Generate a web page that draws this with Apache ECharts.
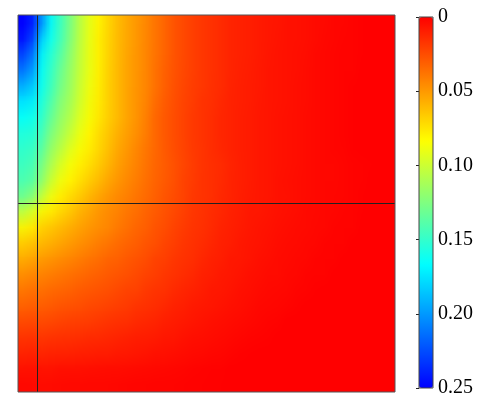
<!DOCTYPE html>
<html>
<head>
<meta charset="utf-8">
<script src="https://cdn.jsdelivr.net/npm/echarts@6/dist/echarts.min.js"></script>
<style>
  html, body { margin: 0; padding: 0; background: #fff; }
  #wrap { position: relative; width: 479px; height: 407px; }
  /* the field is drawn one pixel per cell, then scaled up smoothly to the plot size */
  #field { position: absolute; left: 18px; top: 15px; width: 40px; height: 24px;
           transform: scale(9.425, 15.7083); transform-origin: 0 0; }
  #chart { position: absolute; left: 0; top: 0; width: 479px; height: 407px; }
</style>
</head>
<body>
<div id="wrap">
  <div id="field"></div>
  <div id="chart"></div>
</div>
<script>
// field: 24 rows (top to bottom) x 40 columns (left to right)
const field = [
  [.250,.248,.215,.170,.150,.130,.110,.094,.082,.072,.064,.057,.051,.046,.040,.034,.029,.025,.022,.019,.017,.015,.013,.0115,.0105,.0095,.0085,.0077,.0068,.006,.0052,.0045,.0038,.0031,.0025,.0019,.0013,.0008,.0004,.0001],
  [.248,.244,.190,.166,.148,.129,.109,.093,.081,.071,.063,.056,.051,.046,.040,.034,.029,.025,.022,.019,.017,.015,.013,.0115,.0105,.0095,.0085,.0077,.0068,.006,.0052,.0045,.0038,.0031,.0025,.0019,.0013,.0008,.0004,.0001],
  [.232,.228,.172,.158,.142,.125,.107,.092,.080,.071,.063,.056,.050,.045,.040,.034,.029,.025,.022,.019,.017,.015,.013,.0114,.0104,.0094,.0084,.0076,.0067,.0059,.0051,.0044,.0037,.0030,.0024,.0018,.0012,.0008,.0004,.0001],
  [.218,.214,.167,.152,.135,.121,.106,.093,.081,.071,.062,.055,.050,.045,.039,.033,.028,.025,.022,.019,.017,.015,.013,.0113,.0103,.0093,.0083,.0075,.0066,.0058,.0050,.0043,.0036,.0030,.0024,.0018,.0012,.0007,.0003,.0001],
  [.198,.195,.165,.150,.132,.119,.104,.091,.080,.070,.062,.055,.050,.045,.039,.033,.028,.024,.021,.019,.017,.015,.013,.0112,.0102,.0092,.0082,.0074,.0065,.0057,.0049,.0042,.0036,.0029,.0023,.0017,.0011,.0007,.0003,.0001],
  [.180,.178,.160,.145,.126,.116,.102,.089,.079,.070,.062,.055,.049,.045,.038,.032,.027,.024,.021,.0185,.0165,.0145,.0125,.011,.010,.009,.0081,.0073,.0064,.0056,.0048,.0041,.0035,.0028,.0022,.0016,.0011,.0006,.0003,0],
  [.167,.166,.155,.139,.122,.112,.099,.087,.078,.070,.063,.056,.050,.044,.036,.030,.026,.023,.0195,.0175,.0156,.0135,.0118,.0108,.0098,.0088,.0079,.0071,.0062,.0054,.0047,.0040,.0034,.0027,.0021,.0015,.0009,.0005,.0002,0],
  [.158,.157,.150,.129,.117,.106,.094,.083,.075,.067,.060,.054,.049,.044,.036,.030,.026,.023,.0195,.0175,.0156,.0135,.0118,.0108,.0098,.0088,.0079,.0071,.0062,.0054,.0047,.0040,.0034,.0027,.0021,.0015,.0009,.0005,.0002,0],
  [.152,.151,.142,.122,.110,.099,.087,.080,.073,.065,.058,.052,.046,.041,.036,.030,.026,.023,.0195,.0175,.0156,.0135,.0118,.0108,.0098,.0088,.0079,.0071,.0062,.0054,.0047,.0040,.0034,.0027,.0021,.0015,.0009,.0005,.0002,0],
  [.148,.147,.133,.115,.101,.089,.081,.076,.070,.062,.055,.049,.044,.040,.035,.032,.0279,.0244,.0209,.0186,.0168,.015,.0132,.0114,.0098,.0089,.008,.0071,.0062,.0053,.0046,.0041,.0036,.0032,.0027,.0022,.0017,.0012,.0007,.0002],
  [.143,.142,.126,.107,.092,.083,.077,.071,.065,.058,.052,.047,.043,.038,.034,.031,.0273,.0239,.0205,.0184,.0166,.0148,.013,.0112,.0097,.0088,.0079,.007,.0061,.0052,.0046,.0041,.0036,.0032,.0027,.0022,.0017,.0012,.0007,.0002],
  [.138,.136,.115,.094,.080,.075,.069,.063,.058,.052,.048,.044,.040,.037,.033,.0298,.0265,.0233,.0199,.0181,.0162,.0144,.0126,.0108,.0095,.0086,.0077,.0068,.0059,.005,.0045,.004,.0035,.003,.0026,.0021,.0016,.0011,.0006,.0002],
  [.115,.108,.088,.082,.075,.069,.063,.057,.051,.047,.044,.041,.038,.034,.0314,.0284,.0253,.0223,.0192,.0177,.0159,.0141,.0123,.0106,.0096,.0087,.0078,.0069,.006,.0051,.0044,.004,.0035,.003,.0025,.002,.0016,.0011,.0007,.0002],
  [.088,.083,.072,.068,.064,.060,.056,.052,.049,.046,.043,.039,.036,.033,.0294,.0266,.0237,.0209,.0187,.0169,.0151,.0133,.0115,.0098,.0089,.008,.0071,.0063,.0053,.0047,.0042,.0038,.0033,.0028,.0023,.0019,.0014,.0009,.0005,0],
  [.070,.067,.064,.061,.058,.054,.050,.047,.044,.041,.038,.035,.033,.030,.028,.025,.022,.0194,.0175,.0157,.0139,.0121,.0103,.0093,.0083,.0075,.0066,.0057,.0048,.0044,.0039,.0034,.0029,.0024,.0019,.0014,.001,.0005,0,0],
  [.060,.058,.054,.052,.049,.046,.044,.041,.039,.036,.034,.031,.029,.027,.024,.022,.0198,.018,.0163,.0145,.0127,.011,.0096,.0087,.0078,.0068,.0059,.0049,.0044,.0039,.0034,.0029,.0024,.0019,.0014,.0009,.0004,0,0,0],
  [.050,.048,.046,.044,.042,.040,.038,.036,.034,.031,.030,.028,.026,.024,.022,.020,.0183,.0166,.0148,.013,.0112,.0097,.0088,.0078,.0069,.0059,.005,.0045,.004,.0035,.0029,.0024,.0019,.0014,.0009,.0004,0,0,0,0],
  [.041,.040,.039,.037,.036,.034,.032,.031,.029,.028,.026,.024,.023,.021,.019,.018,.016,.014,.013,.011,.0096,.0087,.0078,.0068,.0059,.005,.0044,.0039,.0033,.0028,.0022,.0017,.0012,.0006,.0001,0,0,0,0,0],
  [.034,.033,.033,.032,.030,.029,.028,.026,.025,.024,.022,.021,.020,.018,.017,.015,.013,.012,.010,.0096,.0087,.0078,.0069,.0059,.005,.0043,.0037,.0032,.0026,.0021,.0015,.0009,.0003,0,0,0,0,0,0,0],
  [.027,.026,.027,.026,.025,.024,.023,.022,.021,.020,.019,.018,.016,.015,.014,.012,.011,.0097,.0086,.0078,.0069,.006,.0052,.0045,.004,.0034,.0028,.0023,.0017,.0011,.0005,0,0,0,0,0,0,0,0,0],
  [.020,.019,.021,.020,.019,.018,.017,.016,.016,.015,.014,.013,.012,.011,.0103,.0095,.0086,.0078,.007,.0061,.0052,.0047,.0041,.0035,.003,.0024,.0019,.0013,.0008,.0002,0,0,0,0,0,0,0,0,0,0],
  [.014,.013,.015,.0145,.014,.0135,.013,.0123,.0118,.0112,.0107,.0102,.0095,.0088,.008,.0073,.0065,.0058,.005,.0044,.0039,.0034,.0028,.0023,.0017,.0012,.0007,.0002,0,0,0,0,0,0,0,0,0,0,0,0],
  [.008,.008,.009,.0087,.0083,.008,.0076,.0073,.0069,.0066,.0062,.0059,.0055,.0052,.0048,.0044,.0039,.0035,.0031,.0026,.0022,.0018,.0014,.0009,.0005,0,0,0,0,0,0,0,0,0,0,0,0,0,0,0],
  [.003,.003,.004,.0038,.0036,.0034,.0032,.003,.0028,.0026,.0025,.0023,.0021,.0019,.0017,.0016,.0014,.0012,.001,.0009,.0007,.0005,.0004,.0002,0,0,0,0,0,0,0,0,0,0,0,0,0,0,0,0]
];
const xCats = field[0].map((_, i) => i);
const yCats = field.map((_, j) => j);
const tickLabels = ["0", "0.05", "0.10", "0.15", "0.20", "0.25"];
// cross-hair position, as fractions of the plot
const crossX = 0.05;
const crossY = 0.5;

const jet = ["#ff0000", "#ffff00", "#00ffff", "#0000ff"];

const cells = [];
field.forEach((row, j) => {
  row.forEach((v, i) => cells.push([i, j, v]));
});

// heatmap, one pixel per cell
const fieldChart = echarts.init(document.getElementById("field"), null, {
  width: xCats.length,
  height: yCats.length,
  devicePixelRatio: 1,
});
fieldChart.setOption({
  animation: false,
  grid: { left: 0, top: 0, right: 0, bottom: 0 },
  xAxis: { type: "category", data: xCats, show: false },
  yAxis: { type: "category", data: yCats, inverse: true, show: false },
  visualMap: {
    show: false,
    type: "continuous",
    dimension: 2,
    min: 0,
    max: 0.25,
    inRange: { color: jet },
  },
  series: [
    {
      type: "heatmap",
      data: cells,
      progressive: 0,
      itemStyle: { borderWidth: 0 },
      emphasis: { disabled: true },
    },
  ],
});

// frame, cross-hair and colour bar on top
const chart = echarts.init(document.getElementById("chart"));

const option = {
  animation: false,
  backgroundColor: "transparent",
  grid: [
    { left: 18, top: 15, width: 377, height: 377, show: true, z: 10,
      backgroundColor: "transparent", borderColor: "#555", borderWidth: 1 },
    { left: 419, top: 17, width: 14, height: 371, show: true, z: 10,
      backgroundColor: "transparent", borderColor: "#444", borderWidth: 1 },
  ],
  xAxis: [
    { type: "value", gridIndex: 0, min: 0, max: 1, show: false },
    { type: "value", gridIndex: 1, min: 0, max: 1, show: false },
  ],
  yAxis: [
    { type: "value", gridIndex: 0, min: 0, max: 1, inverse: true, show: false },
    {
      type: "value",
      gridIndex: 1,
      min: 0,
      max: 0.25,
      interval: 0.05,
      inverse: true,
      position: "right",
      axisLine: { show: false },
      splitLine: { show: false },
      axisTick: { show: true, inside: true, length: 3, lineStyle: { color: "#222" } },
      axisLabel: {
        show: true,
        margin: 5,
        showMinLabel: true,
        showMaxLabel: true,
        color: "#000",
        fontFamily: "Liberation Serif",
        fontSize: 20,
        formatter: (v, idx) => tickLabels[idx],
      },
    },
  ],
  visualMap: {
    type: "continuous",
    seriesIndex: 0,
    min: 0,
    max: 0.25,
    inverse: true,
    orient: "vertical",
    left: 419,
    top: 17,
    itemWidth: 14,
    itemHeight: 371,
    padding: 0,
    calculable: false,
    hoverLink: false,
    text: null,
    inRange: { color: jet },
  },
  series: [
    {
      type: "line",
      xAxisIndex: 0,
      yAxisIndex: 0,
      data: [],
      silent: true,
      markLine: {
        symbol: "none",
        silent: true,
        animation: false,
        label: { show: false },
        lineStyle: { color: "#222", width: 1, type: "solid" },
        data: [{ xAxis: crossX }, { yAxis: crossY }],
      },
    },
  ],
};

chart.setOption(option);
</script>
</body>
</html>
